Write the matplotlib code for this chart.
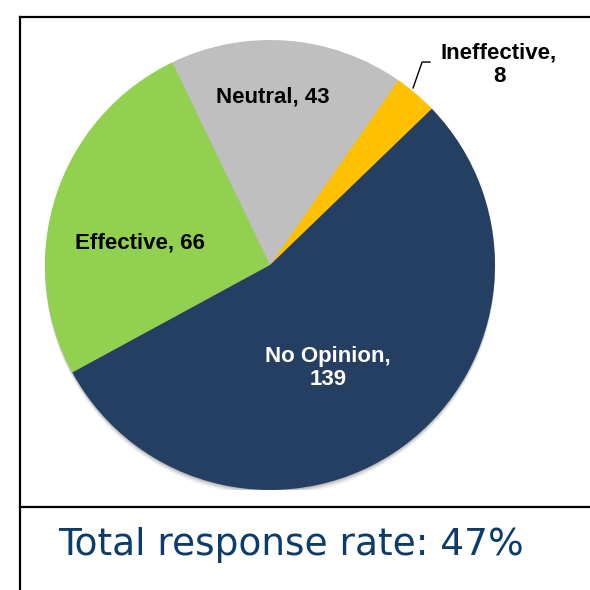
import matplotlib.pyplot as plt
from matplotlib.lines import Line2D
from matplotlib.patches import Circle

# slice data, counter-clockwise from the start angle
labels = ["Ineffective", "Neutral", "Effective", "No Opinion"]
counts = [8, 43, 66, 139]
colors = ["#FFC000", "#BFBFBF", "#92D050", "#253F62"]
text_colors = ["black", "black", "black", "white"]
footer = "Total response rate: 47%"

W = 590.0
fig = plt.figure(figsize=(5.9, 5.9), dpi=100)
fig.patch.set_facecolor("white")

# pie axes: centre ~ (270, 265) px, radius ~ 225 px
ax = fig.add_axes([45 / W, (W - 490) / W, 450 / W, 450 / W])

# soft shadow under the pie
for k, a in [(1, 0.10), (2, 0.08), (3, 0.06), (4, 0.04)]:
    ax.add_patch(Circle((0.0, -0.006 * k), 1.0, color="black", alpha=a, lw=0, zorder=0))

wedges, _ = ax.pie(counts, colors=colors, startangle=44, counterclock=True,
                   radius=1.0, wedgeprops=dict(linewidth=0, zorder=1))
ax.set_xlim(-1, 1)
ax.set_ylim(-1, 1)
ax.set_aspect("equal")
ax.axis("off")

# data labels (positions in pie radius units)
lab_pos = {"Neutral": (0.01, 0.747), "Effective": (-0.578, 0.098), "No Opinion": (0.258, -0.458)}
for name, n, tc in zip(labels, counts, text_colors):
    if name in lab_pos:
        x, y = lab_pos[name]
        txt = f"{name}, {n}" if name != "No Opinion" else f"{name},\n{n}"
        ax.text(x, y, txt, ha="center", va="center", color=tc, fontsize=16,
                fontweight="bold", family="Liberation Sans", linespacing=1.15, zorder=3)

# Ineffective label outside with leader line
ax.text(1.018, 0.889, f"{labels[0]},\n{counts[0]}", ha="center", va="center",
        fontsize=16, fontweight="bold", family="Liberation Sans", linespacing=1.15,
        clip_on=False, zorder=3)
ax.plot([0.636, 0.676, 0.711], [0.787, 0.902, 0.902], color="black", lw=1.0,
        clip_on=False, zorder=3)

# frame lines (figure pixel coords -> fraction)
def px(x, y):
    return x / W, 1 - y / W

for (x0, y0), (x1, y1) in [((20, 17), (W, 17)), ((20, 17), (20, W)), ((20, 507), (W, 507))]:
    a, b = px(x0, y0)
    c, d = px(x1, y1)
    fig.add_artist(Line2D([a, c], [b, d], color="black", lw=1.6))

fx, fy = px(291, 545)
fig.text(fx, fy, footer, ha="center", va="center", color="#0B3C6B",
         fontsize=27, family="DejaVu Sans")

fig.savefig("out.png", dpi=100)
